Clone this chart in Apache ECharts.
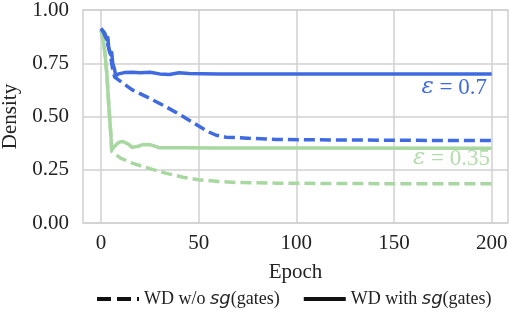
<!DOCTYPE html>
<html>
<head>
<meta charset="utf-8">
<script src="https://cdn.jsdelivr.net/npm/echarts@6/dist/echarts.min.js"></script>
<style>
html,body{margin:0;padding:0;background:#fff;}
#c{width:509px;height:313px;}
</style>
</head>
<body>
<div id="c"></div>
<script>
// ---- data ----
var xTicks = [0, 50, 100, 150, 200];
var yTicks = [0, 0.25, 0.5, 0.75, 1.0];
var legendNames = ['WD w/o sg(gates)', 'WD with sg(gates)'];
var annotations = ['ε = 0.7', 'ε = 0.35'];

// eps = 0.7, WD with sg(gates) (solid)
var blueSolid = [[0,0.913],[1,0.905],[2,0.89],[3,0.86],[3.5,0.87],[4,0.82],[5,0.79],[5.5,0.80],[6,0.75],[7,0.72],[7.5,0.69],[8,0.685],[9,0.70],[12,0.706],[16,0.708],[20,0.705],[25,0.708],[30,0.700],[35,0.697],[40,0.705],[45,0.702],[60,0.700],[100,0.700],[150,0.700],[200,0.700]];
// eps = 0.7, WD w/o sg(gates) (dashed)
var blueDashed = [[0,0.913],[1,0.90],[2,0.88],[3,0.855],[4,0.82],[5,0.78],[6,0.72],[7,0.685],[10,0.665],[16,0.625],[25,0.585],[33,0.547],[42,0.50],[50,0.455],[55,0.428],[59,0.412],[64,0.403],[75,0.398],[90,0.392],[120,0.39],[160,0.388],[200,0.387]];
// eps = 0.35, WD with sg(gates) (solid)
var greenSolid = [[0,0.905],[1,0.87],[2,0.80],[3,0.70],[4,0.55],[5,0.42],[5.5,0.345],[7,0.36],[9,0.378],[11,0.383],[14,0.37],[16,0.355],[19,0.36],[21,0.367],[25,0.368],[28,0.36],[30,0.353],[40,0.353],[60,0.352],[100,0.352],[200,0.351]];
// eps = 0.35, WD w/o sg(gates) (dashed)
var greenDashed = [[0,0.905],[1,0.87],[2,0.80],[3,0.70],[4,0.55],[5,0.42],[5.5,0.336],[10,0.305],[16,0.281],[25,0.255],[33,0.234],[42,0.215],[50,0.203],[60,0.195],[70,0.19],[90,0.187],[130,0.185],[200,0.184]];

var BLUE = '#3f6ae0';
var GREEN = '#a9d7a2';
var GREEN_TXT = '#b3dcac';
var SERIF = '"Liberation Serif", "DejaVu Serif", serif';
var LW = 3.5;
var DASH = [11, 5];

function lineSeries(name, data, color, dash, z) {
  return {
    name: name, type: 'line', data: data, symbol: 'none', z: z,
    lineStyle: { color: color, width: LW, type: dash || 'solid', cap: 'butt', join: 'round' },
    itemStyle: { color: color },
    animation: false
  };
}

var chart = echarts.init(document.getElementById('c'), null, { renderer: 'canvas' });
chart.setOption({
  animation: false,
  backgroundColor: '#ffffff',
  grid: { left: 83, right: 1, top: 10, bottom: 90, show: true, borderColor: '#d0d0d0', borderWidth: 1.5,
    containLabel: false, outerBoundsMode: 'none' },
  xAxis: {
    type: 'value', min: -9.21, max: 208.35,
    name: 'Epoch', nameLocation: 'middle', nameGap: 39,
    nameTextStyle: { fontFamily: SERIF, fontSize: 21, color: '#222' },
    axisLine: { show: false }, axisTick: { show: false, customValues: xTicks },
    axisLabel: { customValues: xTicks, fontFamily: SERIF, fontSize: 21, color: '#222', margin: 10 },
    splitLine: { show: true, lineStyle: { color: '#d0d0d0', width: 1.5 } }
  },
  yAxis: {
    type: 'value', min: 0, max: 1, interval: 0.25,
    name: 'Density', nameLocation: 'middle', nameGap: 62, nameRotate: 90,
    nameTextStyle: { fontFamily: SERIF, fontSize: 21, color: '#222' },
    axisLine: { show: false }, axisTick: { show: false },
    axisLabel: { fontFamily: SERIF, fontSize: 21, color: '#222', margin: 14,
      formatter: function (v) { return v.toFixed(2); } },
    splitLine: { show: true, lineStyle: { color: '#d0d0d0', width: 1.5 } }
  },
  legend: {
    data: legendNames, bottom: 5, left: 95, padding: 0, itemWidth: 42, itemHeight: 14, itemGap: 22,
    itemStyle: { opacity: 0, borderWidth: 0 },
    lineStyle: { width: 4 },
    formatter: function (n) { return n.replace('sg', '{i|sg}'); },
    textStyle: { fontFamily: SERIF, fontSize: 18, color: '#222',
      rich: { i: { fontFamily: '"DejaVu Sans", sans-serif', fontStyle: 'italic', fontSize: 18, color: '#222' } } }
  },
  series: [
    lineSeries('g_dash', greenDashed, GREEN, DASH, 2),
    lineSeries('g_solid', greenSolid, GREEN, null, 2),
    lineSeries('b_dash', blueDashed, BLUE, DASH, 3),
    lineSeries('b_solid', blueSolid, BLUE, null, 3),
    lineSeries(legendNames[0], [], '#111', [14, 6], 1),
    lineSeries(legendNames[1], [], '#111', null, 1)
  ],
  graphic: [
    { type: 'text', right: 22, top: 76, z: 10,
      style: { text: '{e|ε} = 0.7', fontFamily: SERIF, fontSize: 23, fill: BLUE,
        rich: { e: { fontFamily: '"DejaVu Serif", serif', fontStyle: 'italic', fontSize: 23, fill: BLUE, color: BLUE } } } },
    { type: 'text', right: 19, top: 147, z: 10,
      style: { text: '{e|ε} = 0.35', fontFamily: SERIF, fontSize: 23, fill: GREEN_TXT,
        rich: { e: { fontFamily: '"DejaVu Serif", serif', fontStyle: 'italic', fontSize: 23, fill: GREEN_TXT, color: GREEN_TXT } } } }
  ]
});
</script>
</body>
</html>
